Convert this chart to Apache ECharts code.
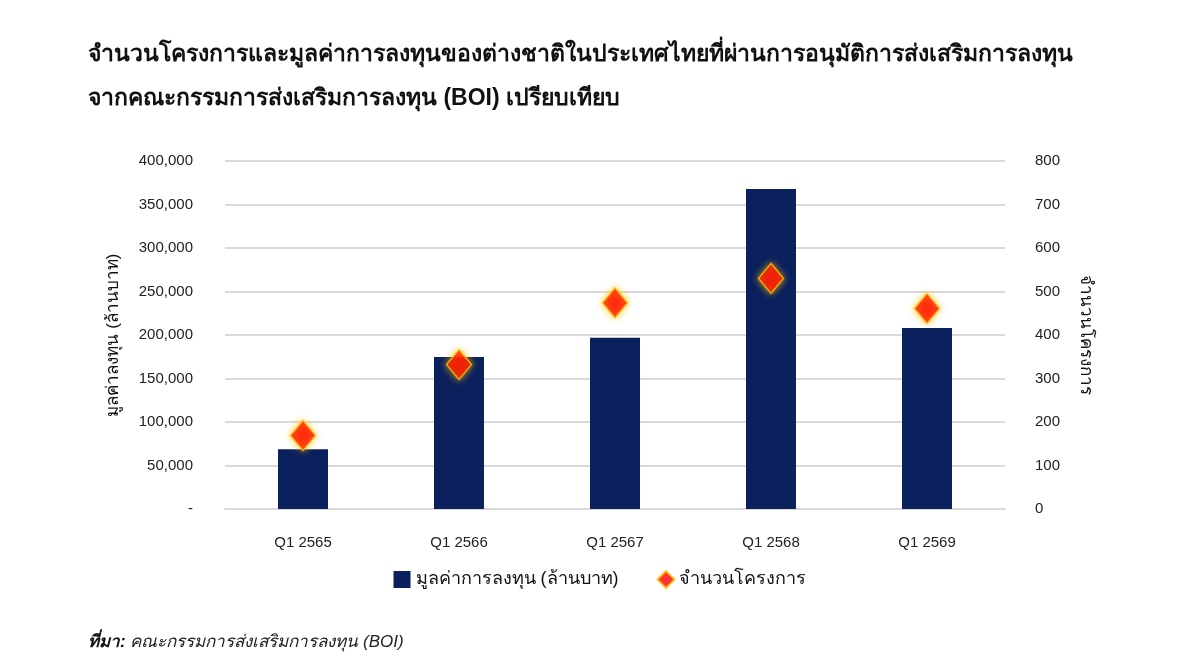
<!DOCTYPE html>
<html>
<head>
<meta charset="UTF-8">
<title>BOI chart</title>
<script src="https://cdn.jsdelivr.net/npm/echarts@6/dist/echarts.min.js"></script>
<style>
  html, body { margin: 0; padding: 0; background: #fff; }
  #main { width: 1200px; height: 667px; }
</style>
</head>
<body>
<div id="main"></div>
<script>
// categories and values
var quarters = ['Q1 2565', 'Q1 2566', 'Q1 2567', 'Q1 2568', 'Q1 2569'];
var investValue = [68600, 174700, 196900, 367800, 208000];   // ล้านบาท
var projectCount = [169, 332, 474, 530, 461];

var fontFam = '"Liberation Sans", Arial, sans-serif';

var chart = echarts.init(document.getElementById('main'));

var option = {
  backgroundColor: '#ffffff',
  textStyle: { fontFamily: fontFam },
  title: [{
    text: 'จำนวนโครงการและมูลค่าการลงทุนของต่างชาติในประเทศไทยที่ผ่านการอนุมัติการส่งเสริมการลงทุน\nจากคณะกรรมการส่งเสริมการลงทุน (BOI) เปรียบเทียบ',
    left: 83,
    top: 28,
    textStyle: { fontSize: 23, fontWeight: 'bold', color: '#111', lineHeight: 44, fontFamily: fontFam }
  }, {
    text: '{b|ที่มา:} คณะกรรมการส่งเสริมการลงทุน (BOI)',
    left: 83,
    top: 629,
    textStyle: {
      fontSize: 17, fontStyle: 'italic', fontWeight: 'normal', color: '#222', fontFamily: fontFam,
      rich: { b: { fontSize: 17, fontStyle: 'italic', fontWeight: 'bold', color: '#111', fontFamily: fontFam } }
    }
  }],
  legend: {
    bottom: 73,
    left: 'center',
    itemGap: 38,
    itemWidth: 17,
    itemHeight: 17,
    textStyle: { fontSize: 18, color: '#111', fontFamily: fontFam },
    data: [
      { name: 'มูลค่าการลงทุน (ล้านบาท)', icon: 'rect' },
      { name: 'จำนวนโครงการ', icon: 'diamond' }
    ]
  },
  grid: { left: 225, right: 195, top: 161, bottom: 158 },
  xAxis: {
    type: 'category',
    data: quarters,
    axisLine: { show: true, lineStyle: { color: '#d9d9d9', width: 2 } },
    axisTick: { show: false },
    axisLabel: { fontSize: 15, color: '#222', margin: 26 }
  },
  yAxis: [{
    type: 'value',
    min: 0, max: 400000, interval: 50000,
    name: 'มูลค่าลงทุน (ล้านบาท)',
    nameLocation: 'middle',
    nameGap: 103,
    nameRotate: 90,
    nameTextStyle: { fontSize: 17, color: '#111' },
    axisLine: { show: false },
    axisTick: { show: false },
    splitLine: { lineStyle: { color: '#d9d9d9', width: 2 } },
    axisLabel: {
      fontSize: 15, color: '#222', margin: 32,
      formatter: function (v) { return v === 0 ? '-' : v.toLocaleString('en-US'); }
    }
  }, {
    type: 'value',
    min: 0, max: 800, interval: 100,
    name: 'จำนวนโครงการ',
    nameLocation: 'middle',
    nameGap: 72,
    nameRotate: -90,
    nameTextStyle: { fontSize: 17, color: '#111' },
    axisLine: { show: false },
    axisTick: { show: false },
    splitLine: { show: false },
    axisLabel: { fontSize: 15, color: '#222', margin: 30 }
  }],
  series: [{
    name: 'มูลค่าการลงทุน (ล้านบาท)',
    type: 'bar',
    data: investValue,
    barWidth: 50,
    itemStyle: { color: '#0b215e' }
  }, {
    name: 'จำนวนโครงการ',
    type: 'scatter',
    yAxisIndex: 1,
    data: projectCount,
    symbol: 'diamond',
    symbolSize: [25, 30],
    z: 5,
    itemStyle: {
      color: '#ff0000',
      borderColor: '#ffc000',
      borderWidth: 1.5,
      shadowBlur: 7,
      shadowColor: 'rgba(255, 190, 0, 0.9)'
    }
  }]
};

chart.setOption(option);
</script>
</body>
</html>
